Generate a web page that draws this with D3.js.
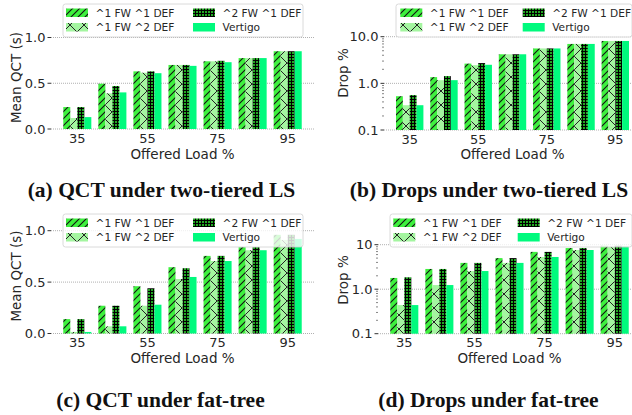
<!DOCTYPE html>
<html lang="en">
<head>
<meta charset="UTF-8">
<title>QCT and drops under two-tiered LS and fat-tree</title>
<script src="https://d3js.org/d3.v7.min.js"></script>
<style>
  body { margin: 0; background: #fff; }
  svg text { font-family: "DejaVu Sans", sans-serif; fill: #262626; }
  .caption { font-family: "Liberation Serif", serif; font-weight: bold; fill: #111; }
</style>
</head>
<body>
<div id="chart"></div>
<script>
// offered load groups and which of them get a tick label
const loads = [35, 45, 55, 65, 75, 85, 95];
const tickLoads = [35, 55, 75, 95];
const seriesNames = ["^1 FW ^1 DEF", "^1 FW ^2 DEF", "^2 FW ^1 DEF", "Vertigo"];

// (a) mean QCT (s), two-tiered leaf-spine
const qctLsF1D1 = [0.24, 0.495, 0.63, 0.70, 0.74, 0.775, 0.85];
const qctLsF1D2 = [0.12, 0.39, 0.615, 0.70, 0.74, 0.775, 0.85];
const qctLsF2D1 = [0.24, 0.47, 0.63, 0.70, 0.745, 0.775, 0.85];
const qctLsVert = [0.13, 0.40, 0.61, 0.69, 0.73, 0.775, 0.85];

// (b) drop %, two-tiered leaf-spine
const dropLsF1D1 = [0.53, 1.36, 2.65, 4.2, 5.6, 7.0, 8.1];
const dropLsF1D2 = [0.34, 1.17, 2.45, 4.2, 5.6, 7.0, 8.1];
const dropLsF2D1 = [0.56, 1.43, 2.72, 4.2, 5.6, 7.0, 8.1];
const dropLsVert = [0.34, 1.17, 2.5, 4.2, 5.6, 7.0, 8.1];

// (c) mean QCT (s), fat-tree
const qctFtF1D1 = [0.14, 0.27, 0.46, 0.645, 0.755, 0.84, 0.96];
const qctFtF1D2 = [0.015, 0.07, 0.27, 0.53, 0.705, 0.81, 0.91];
const qctFtF2D1 = [0.14, 0.27, 0.44, 0.635, 0.755, 0.84, 0.96];
const qctFtVert = [0.015, 0.07, 0.28, 0.55, 0.705, 0.81, 0.92];

// (d) drop %, fat-tree
const dropFtF1D1 = [1.79, 2.85, 3.9, 5.0, 6.9, 8.4, 9.5];
const dropFtF1D2 = [0.44, 1.24, 2.56, 3.9, 5.3, 7.6, 9.0];
const dropFtF2D1 = [1.85, 2.85, 3.9, 5.0, 6.9, 8.4, 9.5];
const dropFtVert = [0.44, 1.24, 2.56, 3.9, 5.3, 7.6, 9.2];

const linTicks = [0, 0.5, 1.0];
const logTicks = [0.1, 1, 10];

const svg = d3.select("#chart").append("svg")
    .attr("width", 632)
    .attr("height", 415);

// hatch patterns, like matplotlib's '///', 'x' and '+++'
const defs = svg.append("defs");

const p0 = defs.append("pattern").attr("id", "p0")
    .attr("patternUnits", "userSpaceOnUse").attr("width", 7).attr("height", 7);
p0.append("rect").attr("width", 7).attr("height", 7).attr("fill", "#3ef03e");
p0.append("path").attr("d", "M0,7L7,0M-1,1L1,-1M6,8L8,6")
    .attr("stroke", "#111").attr("stroke-width", 1.1);

const p1 = defs.append("pattern").attr("id", "p1")
    .attr("patternUnits", "userSpaceOnUse").attr("width", 14).attr("height", 14);
p1.append("rect").attr("width", 14).attr("height", 14).attr("fill", "#a4f5a0");
p1.append("path").attr("d", "M0,0L14,14M14,0L0,14")
    .attr("stroke", "#222").attr("stroke-width", 1);

const p2 = defs.append("pattern").attr("id", "p2")
    .attr("patternUnits", "userSpaceOnUse").attr("width", 3).attr("height", 3);
p2.append("rect").attr("width", 3).attr("height", 3).attr("fill", "#22a822");
p2.append("path").attr("d", "M0,0.5H3M0.5,0V3")
    .attr("stroke", "#000").attr("stroke-width", 1);

const fills = ["url(#p0)", "url(#p1)", "url(#p2)", "#00fa7d"];
const barOffsets = [-4, -2, 0, 2]; // in load units, each bar is 2 wide

function drawPanel(cfg) {
    const g = svg.append("g");

    const x = d3.scaleLinear().domain([27.5, 102.5]).range([cfg.left, cfg.right]);
    const y = (cfg.log ? d3.scaleLog() : d3.scaleLinear())
        .domain(cfg.yDomain)
        .range([cfg.bottom, cfg.top]);
    const yBase = cfg.yDomain[0];

    // dotted grid
    g.selectAll("line.grid").data(cfg.yTicks).join("line")
        .attr("class", "grid")
        .attr("x1", cfg.left).attr("x2", cfg.right)
        .attr("y1", d => y(d)).attr("y2", d => y(d))
        .attr("stroke", "#b0b0b0")
        .attr("stroke-dasharray", "1,1");

    // bars
    cfg.series.forEach((vals, i) => {
        g.selectAll(null).data(vals).join("rect")
            .attr("x", (d, j) => x(loads[j] + barOffsets[i]))
            .attr("width", x(2) - x(0))
            .attr("y", d => y(d))
            .attr("height", d => y(yBase) - y(d))
            .attr("fill", fills[i]);
    });

    // y ticks
    g.selectAll("line.ytick").data(cfg.yTicks).join("line")
        .attr("x1", cfg.left - 3.5).attr("x2", cfg.left)
        .attr("y1", d => y(d)).attr("y2", d => y(d))
        .attr("stroke", "#333");
    if (cfg.log) {
        const minors = [];
        [0.1, 1].forEach(dec => d3.range(2, 10).forEach(k => minors.push(dec * k)));
        g.selectAll("line.minor").data(minors).join("line")
            .attr("x1", cfg.left - 2).attr("x2", cfg.left)
            .attr("y1", d => y(d)).attr("y2", d => y(d))
            .attr("stroke", "#333").attr("stroke-width", 0.6);
    }
    g.selectAll("text.ytick").data(cfg.yTicks).join("text")
        .attr("x", cfg.left - 5.5)
        .attr("y", d => y(d))
        .attr("dy", "0.36em")
        .attr("text-anchor", "end")
        .style("font-size", "13px")
        .text(cfg.yFormat);

    // x tick labels
    g.selectAll("text.xtick").data(tickLoads).join("text")
        .attr("x", d => x(d))
        .attr("y", y(yBase) + 13.5)
        .attr("text-anchor", "middle")
        .style("font-size", "13px")
        .text(d => d);

    // axis titles
    g.append("text")
        .attr("x", (cfg.left + cfg.right) / 2)
        .attr("y", cfg.xLabelY)
        .attr("text-anchor", "middle")
        .style("font-size", "13.5px")
        .text("Offered Load %");
    g.append("text")
        .attr("transform", `translate(${cfg.yLabelX},${cfg.yLabelY}) rotate(-90)`)
        .attr("dy", "0.35em")
        .attr("text-anchor", "middle")
        .style("font-size", "13.5px")
        .text(cfg.yLabel);

    // legend, 2 columns, filled column-wise
    const lg = g.append("g").attr("transform", `translate(${cfg.legend.x},${cfg.legend.y})`);
    lg.append("rect")
        .attr("width", cfg.legend.w).attr("height", 33)
        .attr("rx", 2.5)
        .attr("fill", "#fff").attr("fill-opacity", 0.8)
        .attr("stroke", "#d0d0d0").attr("stroke-width", 0.8);
    seriesNames.forEach((name, i) => {
        const col = Math.floor(i / 2), row = i % 2;
        const px = cfg.legend.cols[col];
        const py = 4.5 + row * 14.5;
        lg.append("rect")
            .attr("x", px).attr("y", py)
            .attr("width", 22).attr("height", 8.5)
            .attr("fill", fills[i]);
        lg.append("text")
            .attr("x", px + 29.5).attr("y", py + 8.4)
            .style("font-size", "10.6px")
            .text(name);
    });

    // caption under the panel
    svg.append("text")
        .attr("class", "caption")
        .attr("x", cfg.captionX)
        .attr("y", cfg.captionY)
        .attr("text-anchor", "middle")
        .style("font-size", "21.5px")
        .text(cfg.caption);
}

drawPanel({
    series: [qctLsF1D1, qctLsF1D2, qctLsF2D1, qctLsVert],
    log: false, yDomain: [0, 1], yTicks: linTicks, yFormat: d3.format(".1f"),
    left: 51, right: 314, bottom: 129, top: 37.5,
    yLabel: "Mean QCT (s)", yLabelX: 16, yLabelY: 77.5, xLabelY: 158.5,
    legend: { x: 63, y: 4, w: 240, cols: [3, 130] },
    caption: "(a) QCT under two-tiered LS", captionX: 161.5, captionY: 197
});

drawPanel({
    series: [dropLsF1D1, dropLsF1D2, dropLsF2D1, dropLsVert],
    log: true, yDomain: [0.1, 10], yTicks: logTicks, yFormat: d3.format(".1f"),
    left: 384, right: 641, bottom: 130, top: 36.7,
    yLabel: "Drop %", yLabelX: 343, yLabelY: 73, xLabelY: 158.5,
    legend: { x: 396, y: 4, w: 236, cols: [4.3, 126.7] },
    caption: "(b) Drops under two-tiered LS", captionX: 489, captionY: 197
});

drawPanel({
    series: [qctFtF1D1, qctFtF1D2, qctFtF2D1, qctFtVert],
    log: false, yDomain: [0, 1], yTicks: linTicks, yFormat: d3.format(".1f"),
    left: 51, right: 314, bottom: 333.5, top: 230.7,
    yLabel: "Mean QCT (s)", yLabelX: 16, yLabelY: 276, xLabelY: 363,
    legend: { x: 63, y: 214, w: 240, cols: [3, 130] },
    caption: "(c) QCT under fat-tree", captionX: 160.5, captionY: 407
});

drawPanel({
    series: [dropFtF1D1, dropFtF1D2, dropFtF2D1, dropFtVert],
    log: true, yDomain: [0.1, 10], yTicks: logTicks, yFormat: d => d >= 10 ? "10" : d3.format(".1f")(d),
    left: 378, right: 641, bottom: 333.7, top: 244.7,
    yLabel: "Drop %", yLabelX: 343, yLabelY: 280, xLabelY: 363,
    legend: { x: 390, y: 214, w: 242, cols: [3.3, 127.7] },
    caption: "(d) Drops under fat-tree", captionX: 488.5, captionY: 407
});
</script>
</body>
</html>
